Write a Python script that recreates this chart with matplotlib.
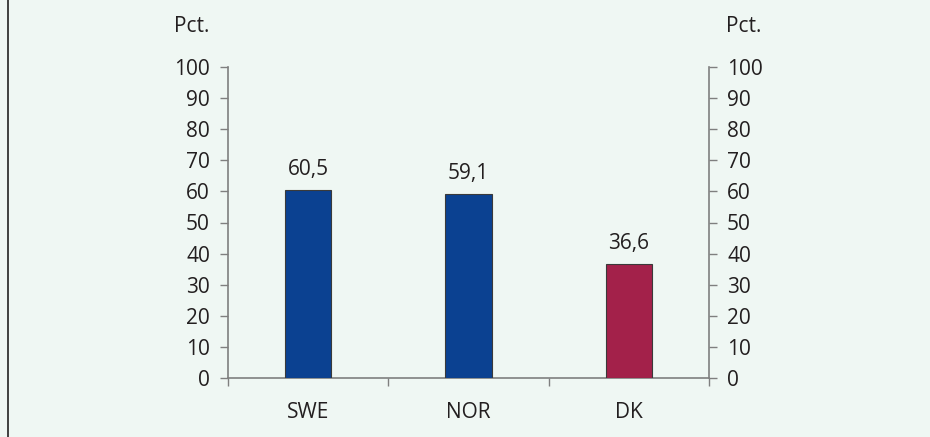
import matplotlib

matplotlib.use("Agg")
import matplotlib.pyplot as plt  # noqa: E402
from matplotlib.ticker import FixedLocator, NullFormatter  # noqa: E402

countries = ["SWE", "NOR", "DK"]
values = [60.5, 59.1, 36.6]
value_labels = ["60,5", "59,1", "36,6"]
bar_colors = ["#0b4191", "#0b4191", "#a3214a"]
yticks = list(range(0, 101, 10))

BG = "#eff7f3"
SPINE = "#7f7f7f"
TXT = "#231f20"
FS = 15

plt.rcParams["font.family"] = ["Open Sans", "DejaVu Sans"]

fig = plt.figure(figsize=(9.3, 4.37), dpi=100, facecolor=BG)
ax = fig.add_axes([228 / 930, 59 / 437, 481 / 930, 311 / 437], facecolor=BG)

x = range(len(countries))
ax.bar(x, values, width=0.29, color=bar_colors, edgecolor="#3a3a3a", linewidth=0.8, zorder=3)
for xi, v, lab in zip(x, values, value_labels):
    ax.annotate(lab, (xi, v), xytext=(0, 7), textcoords="offset points",
                ha="center", va="bottom", fontsize=FS, color=TXT)

ax.set_xlim(-0.5, len(countries) - 0.5)
ax.set_ylim(0, 100)
ax.set_yticks(yticks)
ax.tick_params(axis="y", which="both", direction="out", length=6, width=1,
               color=SPINE, labelsize=FS, labelcolor=TXT, pad=7,
               left=True, right=True, labelleft=True, labelright=True)

ax.set_xticks(list(x))
ax.set_xticklabels(countries)
ax.xaxis.set_minor_locator(FixedLocator([i - 0.5 for i in range(len(countries) + 1)]))
ax.xaxis.set_minor_formatter(NullFormatter())
ax.tick_params(axis="x", which="major", length=0, labelsize=FS, labelcolor=TXT, pad=17)
ax.tick_params(axis="x", which="minor", direction="out", length=6, width=1, color=SPINE)

ax.spines["top"].set_visible(False)
for side in ("left", "right", "bottom"):
    ax.spines[side].set_color(SPINE)
    ax.spines[side].set_linewidth(1.2)

fig.text(209 / 930, 1 - 27 / 437, "Pct.", ha="right", va="center", fontsize=FS, color=TXT)
fig.text(726 / 930, 1 - 27 / 437, "Pct.", ha="left", va="center", fontsize=FS, color=TXT)

# left frame line of the page
fig.add_artist(plt.Line2D([7.5 / 930, 7.5 / 930], [0, 1], transform=fig.transFigure,
                          color="#222222", linewidth=1.2))

fig.savefig("out.png", dpi=100, facecolor=BG)
